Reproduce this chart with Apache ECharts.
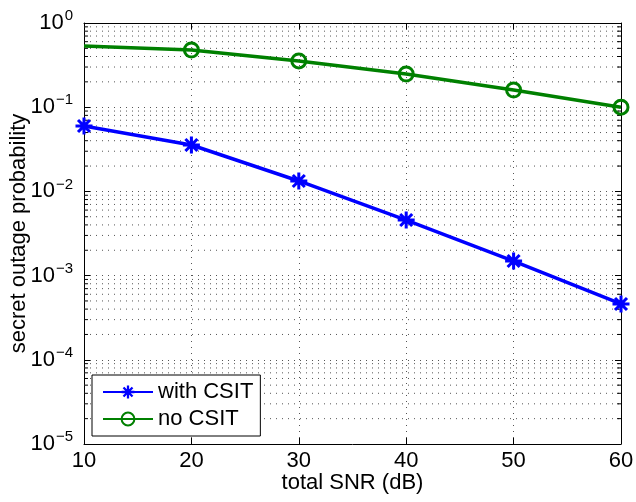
<!DOCTYPE html>
<html>
<head>
<meta charset="utf-8">
<script src="https://cdn.jsdelivr.net/npm/echarts@6/dist/echarts.min.js"></script>
<style>
  html, body { margin: 0; padding: 0; background: #fff; }
  #main { width: 636px; height: 502px; }
</style>
</head>
<body>
<div id="main"></div>
<script>
// data
const snr = [10, 20, 30, 40, 50, 60];
const withCSIT = [0.0598, 0.0356, 0.0133, 0.00457, 0.00149, 0.00046];
const noCSIT = [0.533, 0.478, 0.354, 0.248, 0.16, 0.1];
const xMin = 10, xMax = 60;
const yMin = 1e-5, yMax = 1;

// asterisk marker
const starPath = 'path://M-1.6,-9L1.6,-9L1.6,9L-1.6,9Z M-9,-1.6L9,-1.6L9,1.6L-9,1.6Z ' +
  'M-7.5,-5.2L-5.2,-7.5L7.5,5.2L5.2,7.5Z M5.2,-7.5L7.5,-5.2L-5.2,7.5L-7.5,5.2Z';

// minor log positions 2..9 per decade
const minorVals = [];
for (let e = -5; e < 0; e++) {
  for (let k = 2; k <= 9; k++) minorVals.push(k * Math.pow(10, e));
}
// dotted grid at minor positions, and short inside ticks left/right
const minorGrid = [];
const minorTicks = [];
const tickLen = 0.37; // in x units (~4px)
minorVals.forEach((v) => {
  minorGrid.push([xMin, v], [xMax, v], [xMax, '-']);
  minorTicks.push([xMin, v], [xMin + tickLen, v], [xMin + tickLen, '-'],
    [xMax - tickLen, v], [xMax, v], [xMax, '-']);
});

const font = 'Liberation Sans, Arial, Helvetica, sans-serif';
const expLabel = (v) => {
  const e = Math.round(Math.log10(v));
  return '{b|10}{s|' + (e < 0 ? '\u2212' + (-e) : e) + '}';
};
const dotted = { color: '#555', width: 1, type: [1, 5] };

const myChart = echarts.init(document.getElementById('main'));
myChart.setOption({
  animation: false,
  textStyle: { fontFamily: font },
  grid: { left: 84, right: 15, top: 23, bottom: 58, containLabel: false, outerBoundsMode: 'none' },
  legend: {
    left: 92, top: 375,
    orient: 'vertical',
    backgroundColor: '#fff',
    borderColor: '#000',
    borderWidth: 1,
    borderRadius: 0,
    padding: [6, 7, 6, 10],
    itemWidth: 50,
    itemHeight: 16,
    itemGap: 5,
    textStyle: { fontSize: 22, color: '#000', fontFamily: font },
    data: ['with CSIT', 'no CSIT']
  },
  xAxis: [{
    type: 'value',
    min: xMin, max: xMax, interval: 10,
    name: 'total SNR (dB)',
    nameLocation: 'middle',
    nameGap: 28,
    nameMoveOverlap: false,
    nameTextStyle: { fontSize: 22, color: '#000' },
    axisLine: { lineStyle: { color: '#000', width: 1 } },
    axisTick: { inside: true, length: 6, lineStyle: { color: '#000' } },
    axisLabel: { fontSize: 22, color: '#000', margin: 6 },
    splitLine: { show: true, lineStyle: dotted }
  }, {
    type: 'value',
    position: 'top',
    min: xMin, max: xMax, interval: 10,
    axisLine: { show: true, lineStyle: { color: '#000', width: 1 } },
    axisTick: { show: true, inside: true, length: 6, lineStyle: { color: '#000' } },
    axisLabel: { show: false },
    splitLine: { show: false }
  }],
  yAxis: [{
    type: 'log',
    logBase: 10,
    min: yMin, max: yMax,
    name: 'secret outage probability',
    nameLocation: 'middle',
    nameGap: 54,
    nameMoveOverlap: false,
    nameTextStyle: { fontSize: 22, color: '#000' },
    axisLine: { show: true, lineStyle: { color: '#000', width: 1 } },
    axisTick: { show: true, inside: true, length: 6, lineStyle: { color: '#000' } },
    axisLabel: {
      color: '#000',
      margin: 11,
      formatter: expLabel,
      rich: {
        b: { fontSize: 22, color: '#000', fontFamily: font },
        s: { fontSize: 15, color: '#000', fontFamily: font, padding: [0, 0, 14, 1] }
      }
    },
    splitLine: { show: true, lineStyle: dotted }
  }, {
    type: 'log',
    logBase: 10,
    position: 'right',
    min: yMin, max: yMax,
    axisLine: { show: true, lineStyle: { color: '#000', width: 1 } },
    axisTick: { show: true, inside: true, length: 6, lineStyle: { color: '#000' } },
    axisLabel: { show: false },
    splitLine: { show: false }
  }],
  series: [{
    name: 'minor grid',
    type: 'line',
    data: minorGrid,
    symbol: 'none',
    silent: true,
    lineStyle: dotted,
    z: 1
  }, {
    name: 'minor ticks',
    type: 'line',
    data: minorTicks,
    symbol: 'none',
    silent: true,
    lineStyle: { color: '#000', width: 1 },
    z: 1
  }, {
    name: 'with CSIT',
    type: 'line',
    data: snr.map((x, i) => [x, withCSIT[i]]),
    color: '#0000ff',
    lineStyle: { width: 3.5, color: '#0000ff' },
    symbol: starPath,
    symbolSize: 17,
    itemStyle: { color: '#0000ff' },
    z: 5
  }, {
    name: 'no CSIT',
    type: 'line',
    data: snr.map((x, i) => i === 0 ? { value: [x, noCSIT[i]], symbol: 'none' } : [x, noCSIT[i]]),
    color: '#008000',
    lineStyle: { width: 3.5, color: '#008000' },
    symbol: 'circle',
    symbolSize: 14,
    itemStyle: { color: 'rgba(0,0,0,0)', borderColor: '#008000', borderWidth: 3 },
    z: 5
  }]
});
</script>
</body>
</html>
